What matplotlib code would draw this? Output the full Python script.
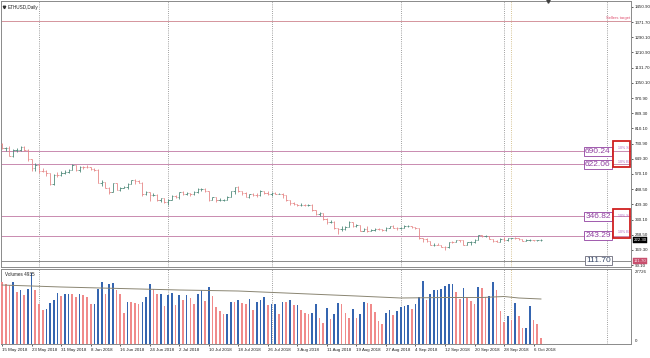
import matplotlib
matplotlib.use('Agg')
import matplotlib.pyplot as plt
from matplotlib.collections import LineCollection
from matplotlib.patches import Rectangle
import matplotlib.transforms as mtransforms

plt.rcParams['font.family'] = ['Liberation Sans', 'DejaVu Sans']

# ---------------- data ----------------
date_labels = ['15 May 2018', '23 May 2018', '31 May 2018', '8 Jun 2018', '16 Jun 2018',
               '24 Jun 2018', '2 Jul 2018', '10 Jul 2018', '18 Jul 2018', '26 Jul 2018',
               '3 Aug 2018', '11 Aug 2018', '19 Aug 2018', '27 Aug 2018', '4 Sep 2018',
               '12 Sep 2018', '20 Sep 2018', '28 Sep 2018', '6 Oct 2018']
label_days = [0, 8, 16, 24, 32, 40, 48, 56, 64, 72, 80, 88, 96, 104, 112, 120, 128, 136, 144]

opens = [730, 708, 708, 667, 695, 696, 714, 697, 648, 601, 620, 587, 586, 573, 518, 565, 563, 577, 580, 592,
         619, 592, 609, 607, 605, 599, 592, 525, 526, 497, 476, 520, 487, 498, 499, 518, 537, 533, 525, 464,
         474, 457, 457, 431, 441, 420, 434, 453, 448, 475, 464, 468, 467, 474, 491, 491, 479, 434, 448, 433,
         433, 435, 449, 478, 500, 480, 469, 450, 462, 458, 457, 479, 471, 463, 470, 467, 467, 458, 433, 418,
         410, 408, 408, 406, 406, 378, 357, 364, 334, 318, 319, 286, 278, 282, 292, 316, 294, 299, 270, 280,
         270, 276, 281, 278, 273, 286, 295, 287, 283, 283, 295, 295, 289, 284, 232, 229, 216, 196, 197, 196,
         184, 183, 211, 210, 222, 220, 196, 209, 210, 224, 247, 241, 244, 228, 219, 214, 229, 221, 231, 233,
         230, 226, 219, 222, 223, 221, 222]
highs = [736, 715, 717, 700, 705, 720, 718, 702, 650, 630, 622, 604, 590, 576, 572, 578, 586, 590, 598, 622,
         620, 612, 613, 615, 609, 603, 594, 536, 529, 500, 525, 522, 503, 507, 522, 541, 543, 539, 527, 480,
         476, 472, 464, 446, 443, 438, 460, 460, 476, 480, 474, 472, 478, 494, 497, 494, 481, 451, 450, 444,
         440, 453, 481, 504, 507, 482, 474, 465, 469, 468, 484, 483, 478, 475, 474, 471, 469, 460, 435, 422,
         414, 418, 411, 413, 413, 379, 369, 366, 337, 327, 324, 287, 295, 298, 320, 318, 304, 300, 284, 298,
         280, 284, 283, 280, 288, 297, 299, 289, 290, 299, 300, 296, 292, 285, 233, 231, 219, 206, 204, 198,
         188, 214, 219, 224, 223, 221, 212, 215, 226, 250, 251, 247, 245, 229, 223, 231, 236, 233, 235, 237,
         232, 227, 225, 226, 224, 224, 225]
lows = [703, 689, 663, 658, 688, 692, 692, 640, 585, 586, 577, 581, 562, 512, 513, 555, 560, 570, 575, 590,
        586, 580, 595, 600, 592, 588, 520, 506, 494, 464, 475, 485, 482, 495, 490, 515, 517, 522, 456, 460,
        430, 452, 428, 425, 417, 408, 432, 441, 440, 460, 459, 456, 460, 468, 483, 474, 426, 431, 424, 426,
        429, 433, 448, 467, 476, 460, 447, 446, 455, 451, 455, 465, 460, 456, 463, 463, 446, 426, 409, 405,
        400, 402, 401, 400, 375, 354, 351, 329, 309, 311, 281, 252, 269, 276, 289, 290, 288, 268, 268, 262,
        268, 272, 276, 270, 272, 284, 283, 276, 280, 283, 291, 284, 281, 227, 214, 210, 193, 191, 193, 183,
        168, 182, 204, 209, 213, 194, 195, 198, 207, 223, 236, 236, 226, 211, 212, 213, 219, 219, 229, 227,
        224, 216, 218, 219, 219, 218, 219]
closes = [708, 708, 667, 695, 696, 714, 697, 648, 601, 620, 587, 586, 573, 518, 565, 563, 577, 580, 592, 619,
          592, 609, 607, 605, 599, 592, 525, 526, 497, 476, 520, 487, 498, 499, 518, 537, 533, 525, 464, 474,
          457, 457, 431, 441, 420, 434, 453, 448, 475, 464, 468, 467, 474, 491, 491, 479, 434, 448, 433, 433,
          435, 449, 478, 500, 480, 469, 450, 462, 458, 457, 479, 471, 463, 470, 467, 467, 458, 433, 418, 410,
          408, 408, 406, 406, 378, 357, 364, 334, 318, 319, 286, 278, 282, 292, 316, 294, 299, 270, 280, 270,
          276, 281, 278, 273, 286, 295, 287, 283, 283, 295, 295, 289, 284, 232, 229, 216, 196, 197, 196, 184,
          183, 211, 210, 222, 220, 196, 209, 210, 224, 247, 241, 244, 228, 219, 214, 229, 221, 231, 233, 230,
          226, 219, 222, 223, 221, 222, 222.3]

volumes = [23870, 23100, 22715, 23870, 20020, 20790, 18865, 21175, 27335, 20790, 15400, 13090, 13475, 15785,
           16940, 19635, 18480, 19250, 19440, 19250, 18095, 19250, 18865, 18095, 15400, 15590, 21175, 23870,
           19250, 23100, 23485, 20790, 19250, 11935, 16170, 15980, 15785, 15400, 16170, 18095, 23100, 21175,
           19250, 19440, 14630, 18865, 19635, 15015, 18865, 16940, 18865, 17710, 15400, 19250, 20790, 16555,
           21945, 18480, 14245, 12705, 11550, 11740, 16170, 15980, 16940, 15785, 15400, 17325, 13090, 16170,
           16940, 18095, 15015, 15400, 15590, 11550, 16170, 15980, 16940, 15015, 15130, 13090, 11935, 11550,
           11935, 15400, 10010, 8085, 13860, 9625, 11550, 15785, 15400, 11935, 10010, 13475, 10010, 11550,
           16170, 15785, 15400, 12320, 8855, 7700, 11935, 13090, 11165, 12705, 14245, 14630, 15015, 13475,
           15400, 18095, 24255, 16940, 19250, 20790, 20905, 21020, 22330, 23100, 23215, 20020, 17325, 21560,
           17710, 16555, 15400, 21945, 21560, 18095, 18480, 23870, 20790, 12705, 8470, 10780, 9240, 15785,
           10780, 6160, 6275, 14630, 9240, 7700, 2310]

ma_days = [0, 8, 16, 32, 48, 56, 64, 80, 96, 108, 120, 130, 136, 140, 146]
ma_vals = [22700, 22330, 21945, 21370, 20790, 20600, 20400, 19440, 18480, 17710, 17900, 17900, 18290, 17710, 17325]

price_ticks = [1450.90, 1371.70, 1290.10, 1210.90, 1131.70, 1050.10, 970.90, 889.30, 810.10,
               730.90, 649.30, 570.10, 488.50, 409.30, 330.10, 248.50, 169.30, 90.10]
price_tick_labels = ['1450.90', '1371.70', '1290.10', '1210.90', '1131.70', '1050.10', '970.90', '889.30',
                     '810.10', '730.90', '649.30', '570.10', '488.50', '409.30', '330.10', '248.50',
                     '169.30', '90.10']
levels = [690.24, 622.06, 346.82, 243.29]
level_labels = ['690.24', '622.06', '346.82', '243.29']
support_level = 111.70
sellers_target = 1376.0
zones = [(744, 607), (385, 233)]
zone_top_text = '10% S'
zone_bottom_text = '10% B'
expiry_days = [10, 45, 73, 108, 136, 164]
marker_day = 138
vol_max_label = '27726'
title = 'ETHUSD,Daily'
vol_title = 'Volumes 4935'

# ---------------- styles ----------------
UP = '#4f8a7a'
DOWN = '#e68888'
VOL_UP = '#3565b0'
VOL_DN = '#f08a8a'
LEVEL_C = '#c98bb0'
LABEL_C = '#9040a0'
GRID_C = '#808080'

W, H = 650, 358
fig = plt.figure(figsize=(6.5, 3.58), dpi=100)
fig.patch.set_facecolor('white')

def rect(l, t, r, b):
    return [l / W, 1 - b / H, (r - l) / W, (b - t) / H]

ax = fig.add_axes(rect(1, 1, 631, 267))
axv = fig.add_axes(rect(1, 269, 631, 344), sharex=ax)

XMIN, XMAX = -0.3, 170.4
ax.set_xlim(XMIN, XMAX)
ax.set_ylim(79.6, 1482.5)
axv.set_ylim(0, 28875)

n = len(closes)
days = list(range(n))

# OHLC bars
segs, cols = [], []
for i in days:
    c = UP if closes[i] >= opens[i] else DOWN
    segs += [[(i, lows[i]), (i, highs[i])],
             [(i - 0.38, opens[i]), (i, opens[i])],
             [(i, closes[i]), (i + 0.38, closes[i])]]
    cols += [c, c, c]
ax.add_collection(LineCollection(segs, colors=cols, linewidths=0.6, zorder=3))

# horizontal lines
ax.axhline(sellers_target, color='#d4949c', lw=0.7, zorder=2)
ax.text(XMAX - 0.3, sellers_target + 8, 'Sellers target', color='#e05070', fontsize=3.0,
        ha='right', va='bottom', zorder=5)
for lv in levels:
    ax.axhline(lv, color=LEVEL_C, lw=0.7, zorder=2)
ax.axhline(support_level, color='#8c8c8c', lw=0.7, zorder=2)

for lv, lab in zip(levels, level_labels):
    ax.text(164.9, lv, lab, color=LABEL_C, fontsize=6, ha='right', va='center', zorder=6,
            bbox=dict(boxstyle='square,pad=0.12', fc='white', ec=LABEL_C, lw=0.6))
ax.text(164.9, support_level, f'{support_level:.2f}', color='#3a4a6a', fontsize=6, ha='right',
        va='center', zorder=6, bbox=dict(boxstyle='square,pad=0.12', fc='white', ec='#6a6a7a', lw=0.6))

# zones
for top, bot in zones:
    ax.add_patch(Rectangle((165.6, bot), XMAX - 0.15 - 165.6, top - bot, fill=False,
                           ec='#d02020', lw=1.3, zorder=7))
    h = top - bot
    ax.text(166.8, top - 0.25 * h, zone_top_text, color='#b060c0', fontsize=2.6, ha='left',
            va='center', zorder=8)
    ax.text(166.8, bot + 0.2 * h, zone_bottom_text, color='#b060c0', fontsize=2.6, ha='left',
            va='center', zorder=8)

# vertical expiry lines
for d in expiry_days:
    for a in (ax, axv):
        a.axvline(d, color=GRID_C, lw=0.6, ls=(0, (1, 1.6)), zorder=1)
for a in (ax, axv):
    a.axvline(marker_day, color='#c8b070', lw=0.6, ls=(0, (1, 1.6)), zorder=1)

# price axis
for a in (ax, axv):
    a.yaxis.tick_right()
    for s in a.spines.values():
        s.set_color('#8a8a8a')
        s.set_linewidth(0.7)
    a.tick_params(axis='y', length=1.5, width=0.5, labelsize=3.2, pad=1.2, colors='#202020')
    a.tick_params(axis='x', length=1.5, width=0.5, colors='#202020')
    a.set_facecolor('white')
ax.set_yticks(price_ticks)
ax.set_yticklabels(price_tick_labels)
ax.tick_params(axis='x', bottom=False, labelbottom=False)

tr = mtransforms.blended_transform_factory(ax.transAxes, ax.transData)
ax.text(1.004, closes[-1], f'{closes[-1]:.2f}', transform=tr, color='white', fontsize=3.2,
        ha='left', va='center', zorder=9, clip_on=False,
        bbox=dict(boxstyle='square,pad=0.15', fc='black', ec='black', lw=0.3))
ax.text(1.004, support_level, f'{support_level:.2f}', transform=tr, color='#f8e0e8', fontsize=3.2,
        ha='left', va='center', zorder=9, clip_on=False,
        bbox=dict(boxstyle='square,pad=0.15', fc='#c8506e', ec='#c8506e', lw=0.3))

# title and markers
ax.text(0.011, 0.985, title, transform=ax.transAxes, fontsize=3.3, ha='left', va='top',
        color='#202020')
ax.plot([0.005], [0.978], marker='v', ms=1.8, color='#303030', transform=ax.transAxes,
        clip_on=False)
ax.plot([148], [1482.5], marker='v', ms=2.5, color='#404040', clip_on=False, zorder=10)

# volume panel
vcols = [VOL_DN] + [VOL_UP if volumes[i] > volumes[i - 1] else VOL_DN for i in range(1, n)]
axv.bar(days, volumes, width=0.45, color=vcols, zorder=3)
axv.plot(ma_days, ma_vals, color='#8a8572', lw=0.7, zorder=4)
axv.set_yticks([])
trv = mtransforms.blended_transform_factory(axv.transAxes, axv.transAxes)
axv.text(1.006, 0.985, vol_max_label, transform=trv, fontsize=3.2, ha='left', va='top',
         color='#202020', clip_on=False)
axv.text(1.006, 0.02, '0', transform=trv, fontsize=3.2, ha='left', va='bottom',
         color='#202020', clip_on=False)
axv.text(0.006, 0.96, vol_title, transform=axv.transAxes, fontsize=3.3, ha='left', va='top',
         color='#202020', zorder=6)

axv.set_xticks(label_days)
axv.set_xticklabels(date_labels, fontsize=3.2, ha='left')
axv.tick_params(axis='x', pad=1.5, direction='out')
axv.set_xlim(XMIN, XMAX)

fig.savefig('out.png', dpi=100, facecolor='white')
